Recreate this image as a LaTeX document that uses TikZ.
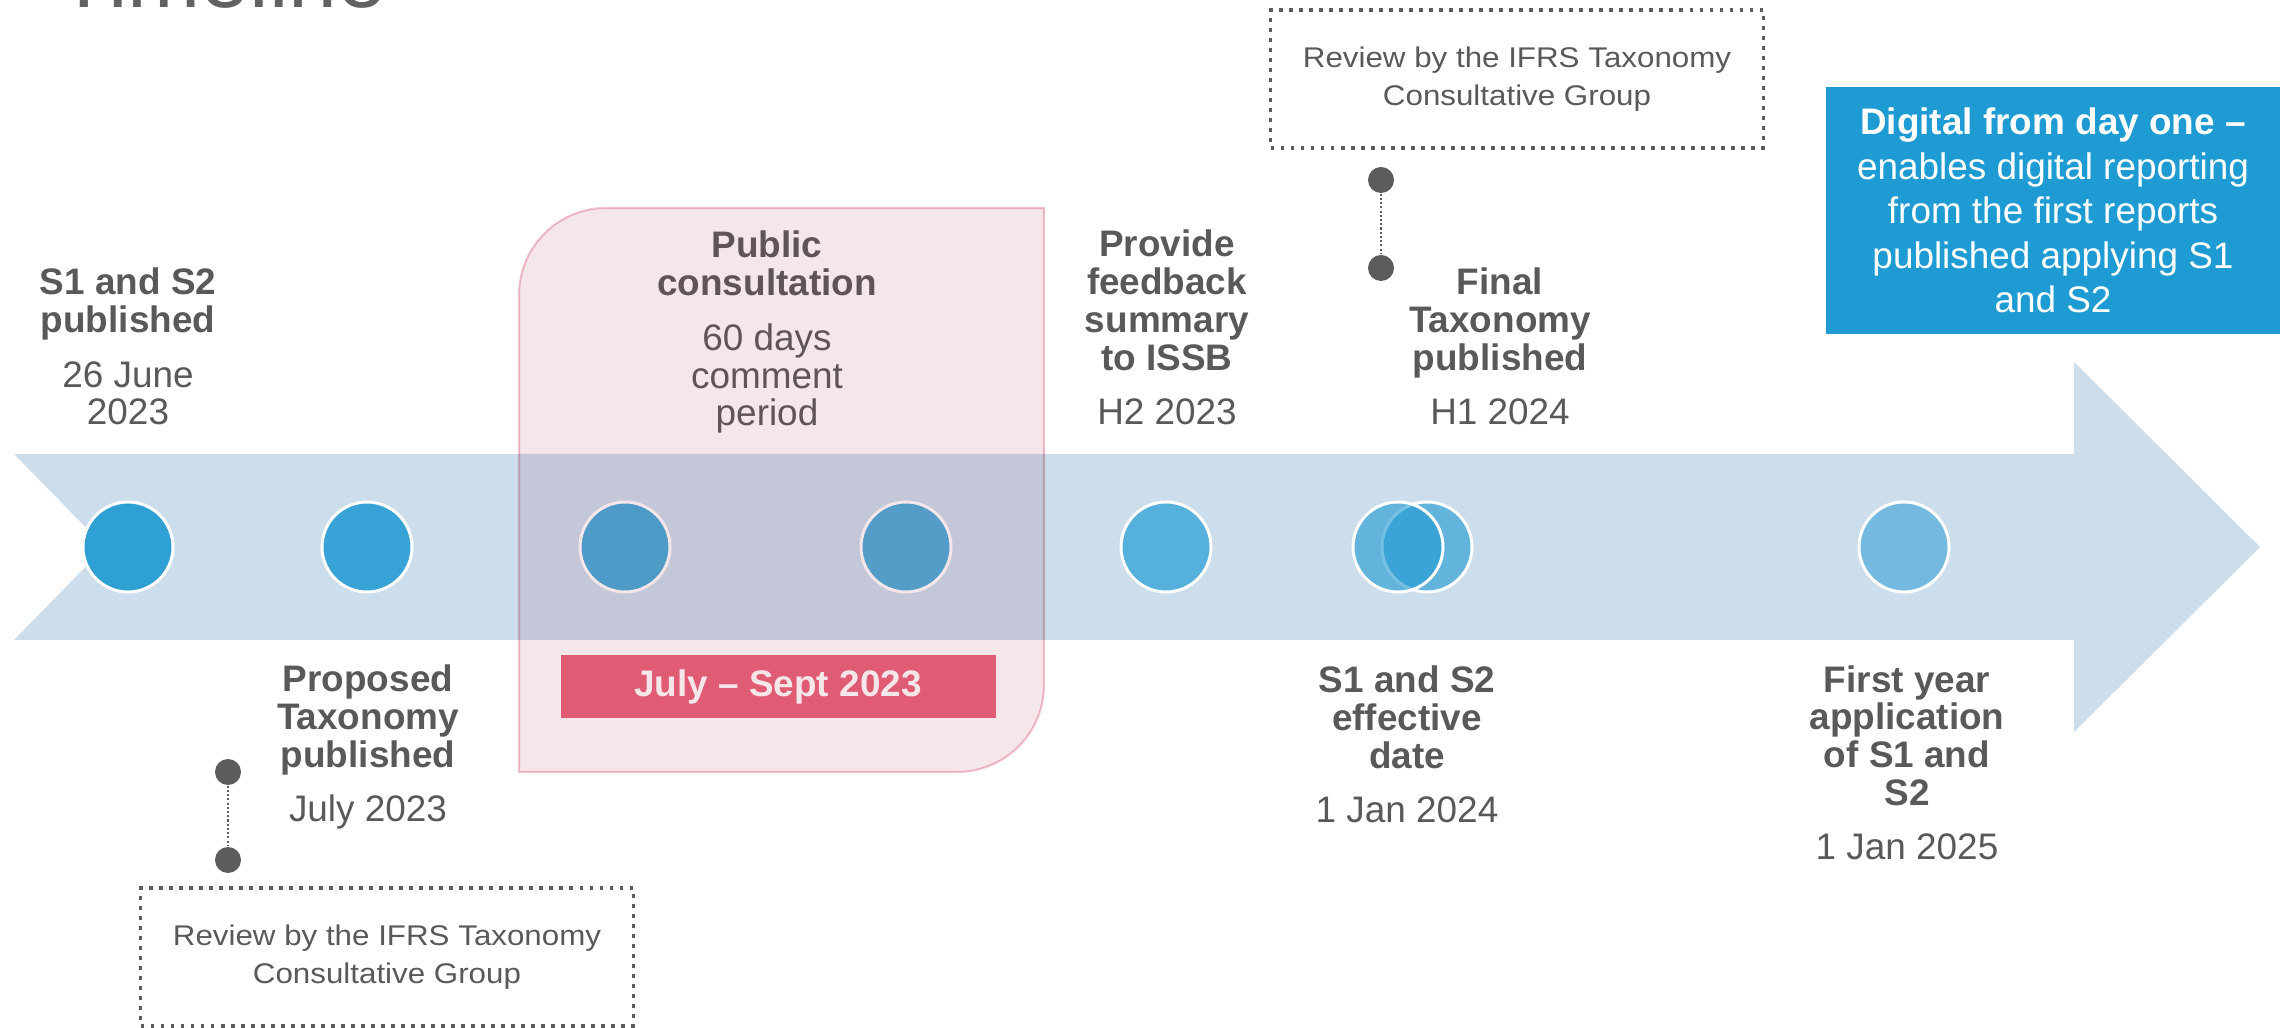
\documentclass[tikz,border=0pt]{standalone}
\usepackage{fontspec}
\setmainfont{Liberation Sans}
\newfontfamily\reviewfont[FakeStretch=1.1]{Liberation Sans}
\usepackage{tikz}
\usetikzlibrary{shapes,arrows}
\usetikzlibrary{positioning}

\definecolor{bandblue}{RGB}{204,221,236}
\definecolor{txtgray}{RGB}{89,89,91}
\definecolor{titlegray}{RGB}{98,98,100}
\definecolor{mauvegray}{RGB}{94,84,89}
\definecolor{dotgray}{RGB}{92,92,94}
\definecolor{pinkfill}{RGB}{245,230,234}
\definecolor{pinkedge}{RGB}{242,196,206}
\definecolor{redbox}{RGB}{224,92,117}
\definecolor{digiblue}{RGB}{30,155,211}
\definecolor{evA}{RGB}{46,160,212}
\definecolor{evB}{RGB}{56,163,214}
\definecolor{evC}{RGB}{82,172,218}
\definecolor{evD}{RGB}{87,175,218}
\definecolor{evE}{RGB}{86,176,220}
\definecolor{evF}{RGB}{32,154,210}
\definecolor{evG}{RGB}{116,186,224}

\begin{document}
\begin{tikzpicture}[x=0.1mm,y=0.1mm,
  lbl/.style={align=center,text=txtgray,inner sep=0pt,anchor=base,
    font=\fontsize{10.5}{10.8}\selectfont},
  ev/.style={circle,draw=white,line width=0.85pt,minimum size=0.9cm,inner sep=0pt},
  pin/.style={circle,fill=dotgray,minimum size=0.26cm,inner sep=0pt},
  conn/.style={draw=dotgray,line width=0.5pt,dash pattern=on 0.6pt off 0.6pt},
  review/.style={draw=dotgray,line width=1.1pt,dash pattern=on 1.1pt off 1.75pt,
    minimum width=4.93cm,minimum height=1.38cm,align=center,text=txtgray,inner sep=0pt,
    font=\reviewfont\fontsize{8.1}{10.7}\selectfont}]

\useasboundingbox (0,0) rectangle (2288,-1028);

\node[anchor=base west,inner sep=0pt,text=titlegray,font=\fontsize{25}{30}\selectfont] (title) at (57,-8) {Timeline};

\fill[bandblue] (14,-454) -- (2074,-454) -- (2074,-362) -- (2260,-547) -- (2074,-732)
  -- (2074,-640) -- (14,-640) -- (105,-547) -- cycle;

\node[ev,fill=evA] (c1) at (128,-547) {};
\node[ev,fill=evB] (c2) at (367,-547) {};
\node[ev,fill=evC] (c3) at (625,-547) {};
\node[ev,fill=evD] (c4) at (906,-547) {};
\node[ev,fill=evE] (c5) at (1166,-547) {};
\node[ev,fill=evF,fill opacity=0.61] (c6b) at (1427,-547) {};
\node[ev,fill=evF,fill opacity=0.61] (c6a) at (1398,-547) {};
\node[ev,fill=evG] (c7) at (1904,-547) {};

% consultation window
\filldraw[fill=pinkfill, draw=pinkedge, line width=0.6pt, blend mode=multiply]
(519,-772) -- (519,-295) arc (180:90:87) -- (1044,-208) -- (1044,-685) arc (0:-90:87) -- cycle;

\node[draw=none,fill=redbox,minimum width=4.35cm,minimum height=0.63cm,inner sep=0pt,
  text=pinkfill,font=\bfseries\fontsize{10.5}{10.8}\selectfont] (julysept) at (778,-686.5) {July – Sept 2023};

%\draw [color=red] (767,-200) -- (767,-800);

\node[lbl] (lbPub) at (128,-425) {\textbf{S1 and S2}\\\textbf{published}\\[4.6pt]26 June\\2023};
\node[lbl,text=mauvegray] (lbCons) at (767,-426) {\textbf{Public}\\\textbf{consultation}\\[4.6pt]60 days\\comment\\period};
\node[lbl] (lbFeed) at (1167,-425) {\textbf{Provide}\\\textbf{feedback}\\\textbf{summary}\\\textbf{to ISSB}\\[4.6pt]H2 2023};
\node[lbl] (lbFinal) at (1500,-425) {\textbf{Final}\\\textbf{Taxonomy}\\\textbf{published}\\[4.6pt]H1 2024};

\node[lbl] (lbProp) at (368,-822) {\textbf{Proposed}\\\textbf{Taxonomy}\\\textbf{published}\\[4.6pt]July 2023};
\node[lbl] (lbEff) at (1407,-823) {\textbf{S1 and S2}\\\textbf{effective}\\\textbf{date}\\[4.6pt]1 Jan 2024};
\node[lbl] (lbFirst) at (1907,-860) {\textbf{First year}\\\textbf{application}\\\textbf{of S1 and}\\\textbf{S2}\\[4.6pt]1 Jan 2025};

\node[fill=digiblue,minimum width=4.54cm,minimum height=2.47cm,inner sep=0pt,align=center,
  text=white,font=\fontsize{10.5}{12.7}\selectfont] (digital) at (2053,-210.5)
  {\textbf{Digital from day one –}\\enables digital reporting\\from the first reports\\published applying S1\\and S2};

\node[review] (revTop) at (1517,-79) {Review by the IFRS Taxonomy\\Consultative Group};
\node[review] (revBot) at (387,-957) {Review by the IFRS Taxonomy\\Consultative Group};

\node[pin] (pinB1) at (1381,-180) {};
\node[pin] (pinB2) at (1381,-268) {};
\draw[conn] (pinB1) -- (pinB2);

\node[pin] (pinA1) at (228,-772) {};
\node[pin] (pinA2) at (228,-860) {};
\draw[conn] (pinA1) -- (pinA2);

\end{tikzpicture}
\end{document}
